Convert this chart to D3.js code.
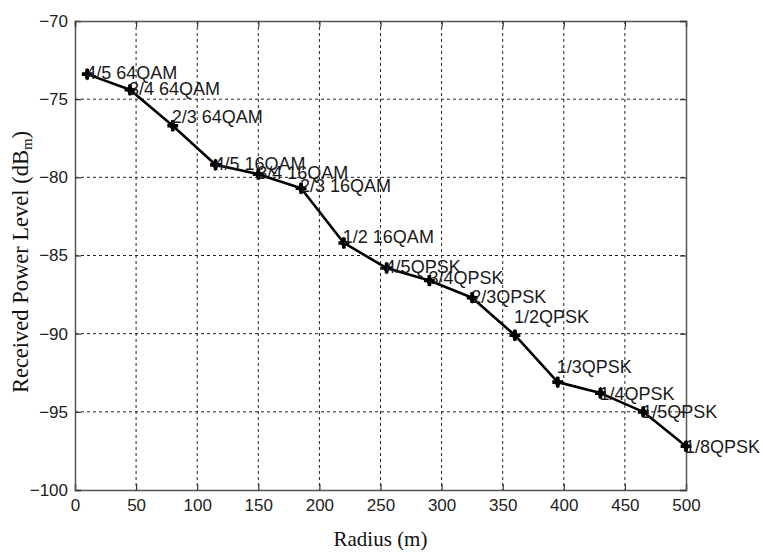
<!DOCTYPE html>
<html>
<head>
<meta charset="utf-8">
<script src="https://cdn.jsdelivr.net/npm/d3@7"></script>
<style>
  body { margin: 0; background: #fff; }
  svg { display: block; }
  .tick text { font-family: "Liberation Sans", Arial, sans-serif; font-size: 17px; fill: #222; }
</style>
</head>
<body>
<svg width="763" height="554"></svg>
<script>
// радиус (м) и уровень мощности (дБм)
const radius = [10, 45, 80, 115, 150, 185, 220, 255, 290, 325, 360, 395, 430, 465, 500];
const power = [-73.4, -74.4, -76.7, -79.2, -79.8, -80.7, -84.2, -85.8, -86.6, -87.7, -90.1, -93.1, -93.8, -95.0, -97.2];
const labels = ["4/5 64QAM", "3/4 64QAM", "2/3 64QAM", "4/5 16QAM", "3/4 16QAM", "2/3 16QAM", "1/2 16QAM",
                "4/5QPSK", "3/4QPSK", "2/3QPSK", "1/2QPSK", "1/3QPSK", "1/4QPSK", "1/5QPSK", "1/8QPSK"];
// где стоит подпись (дБм)
const labelY = [-73.3, -74.3, -76.1, -79.1, -79.7, -80.5, -83.8, -85.7, -86.4, -87.6, -88.9, -92.1, -93.8, -95.0, -97.2];
const xTicks = [0, 50, 100, 150, 200, 250, 300, 350, 400, 450, 500];
const yTicks = [-70, -75, -80, -85, -90, -95, -100];

const data = radius.map((r, i) => ({x: r, y: power[i], label: labels[i], ly: labelY[i]}));

const svg = d3.select("svg");
const attr_area = {width: 763, height: 554, left: 75, right: 77, top: 21, bottom: 64};
const w = attr_area.width - attr_area.left - attr_area.right;
const h = attr_area.height - attr_area.top - attr_area.bottom;

const scX = d3.scaleLinear().domain([0, 500]).range([0, w]);
const scY = d3.scaleLinear().domain([-100, -70]).range([h, 0]);

const g = svg.append("g").attr("transform", `translate(${attr_area.left}, ${attr_area.top})`);

// сетка
g.append("g").selectAll("line").data(xTicks.slice(1, -1)).enter().append("line")
  .attr("x1", d => scX(d)).attr("x2", d => scX(d))
  .attr("y1", 0).attr("y2", h)
  .attr("stroke", "#222").attr("stroke-width", 1).attr("stroke-dasharray", "3,3");
g.append("g").selectAll("line").data(yTicks.slice(1, -1)).enter().append("line")
  .attr("y1", d => scY(d)).attr("y2", d => scY(d))
  .attr("x1", 0).attr("x2", w)
  .attr("stroke", "#222").attr("stroke-width", 1).attr("stroke-dasharray", "3,3");

// оси (засечки внутрь)
const axisB = g.append("g").attr("transform", `translate(0, ${h})`)
  .call(d3.axisBottom(scX).tickValues(xTicks).tickSize(-6).tickPadding(9));
const axisL = g.append("g")
  .call(d3.axisLeft(scY).tickValues(yTicks).tickSize(-6).tickPadding(7));
const axisT = g.append("g")
  .call(d3.axisTop(scX).tickValues(xTicks).tickSize(-6).tickFormat(""));
const axisR = g.append("g").attr("transform", `translate(${w}, 0)`)
  .call(d3.axisRight(scY).tickValues(yTicks).tickSize(-6).tickFormat(""));
[axisB, axisL, axisT, axisR].forEach(a => {
  a.select(".domain").attr("stroke", "#555").attr("stroke-width", 1.5);
  a.selectAll(".tick line").attr("stroke", "#333").attr("stroke-width", 1.2);
});
axisB.selectAll(".tick text").attr("dy", "0.71em");

// линия
g.append("path").datum(data)
  .attr("d", d3.line().x(d => scX(d.x)).y(d => scY(d.y)))
  .attr("fill", "none").attr("stroke", "#000").attr("stroke-width", 2.6)
  .attr("stroke-linejoin", "round");

// маркеры
g.selectAll(".dot").data(data).enter().append("path")
  .attr("d", d3.symbol().type(d3.symbolCross).size(65))
  .attr("transform", d => `translate(${scX(d.x)}, ${scY(d.y)})`)
  .attr("fill", "#000");
g.selectAll(".dia").data(data).enter().append("path")
  .attr("d", d3.symbol().type(d3.symbolDiamond).size(45))
  .attr("transform", d => `translate(${scX(d.x)}, ${scY(d.y)})`)
  .attr("fill", "#000");

// подписи
g.selectAll(".lbl").data(data).enter().append("text")
  .attr("x", d => scX(d.x) - 1)
  .attr("y", d => scY(d.ly))
  .attr("dy", "0.36em")
  .attr("font-family", "'Liberation Sans', Arial, sans-serif")
  .attr("font-size", 18)
  .attr("fill", "#1a1a1a")
  .text(d => d.label);

// подписи осей
svg.append("text")
  .attr("x", attr_area.left + w / 2).attr("y", 546)
  .attr("text-anchor", "middle")
  .attr("font-family", "'Liberation Serif', 'Times New Roman', serif")
  .attr("font-size", 21).attr("fill", "#111")
  .text("Radius (m)");

const yl = svg.append("text")
  .attr("transform", `translate(28, 262) rotate(-90)`)
  .attr("text-anchor", "middle")
  .attr("font-family", "'Liberation Serif', 'Times New Roman', serif")
  .attr("font-size", 22.5).attr("fill", "#111");
yl.append("tspan").text("Received Power Level (dB");
yl.append("tspan").attr("font-size", 15).attr("dy", 4).text("m");
yl.append("tspan").attr("dy", -4).text(")");
</script>
</body>
</html>
